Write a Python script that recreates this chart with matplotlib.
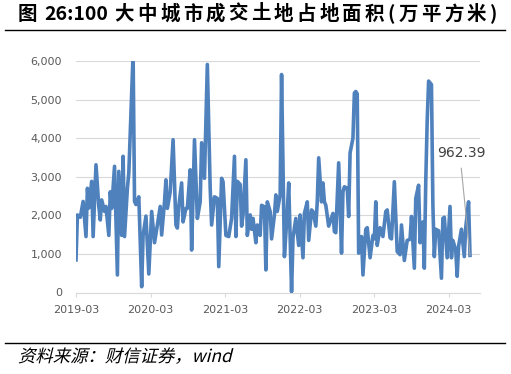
import re
import matplotlib
matplotlib.use("Agg")
import matplotlib.pyplot as plt
from matplotlib.ticker import FuncFormatter
from matplotlib.lines import Line2D
from matplotlib.textpath import TextPath
from matplotlib.patches import PathPatch
from matplotlib.font_manager import FontProperties
from matplotlib.transforms import Affine2D
import pandas as pd

plt.rcParams["font.family"] = ["Noto Sans CJK SC", "DejaVu Sans"]

TITLE = "图 26:100 大中城市成交土地占地面积(万平方米)"
SOURCE = "资料来源：财信证券，wind"

# weekly series (week number counted from 2019-03-01)
week_no = [0, 1, 3, 5, 7, 8, 9, 11, 12, 14, 16, 17, 18, 20, 21, 23, 24, 25, 27, 29,
           30, 32, 33, 34, 36, 37, 39, 40, 41, 42, 44, 46, 47, 49, 51, 53, 55, 57, 59, 60,
           62, 63, 64, 66, 68, 70, 71, 72, 74, 75, 77, 78, 80, 81, 83, 85, 87, 88, 90, 92,
           94, 95, 97, 99, 100, 102, 103, 105, 107, 109, 111, 112, 113, 115, 116, 117, 119, 120, 122, 123,
           124, 126, 127, 129, 130, 132, 133, 134, 136, 137, 139, 140, 141, 143, 144, 146, 148, 149, 151, 152,
           154, 156, 157, 159, 160, 162, 163, 165, 166, 168, 169, 170, 172, 173, 174, 175, 177, 178, 180, 181,
           182, 184, 186, 187, 188, 190, 191, 192, 194, 195, 196, 197, 198, 200, 201, 203, 204, 206, 208, 209,
           210, 211, 213, 215, 217, 218, 220, 221, 223, 225, 227, 228, 230, 232, 234, 235, 237, 238, 240, 241,
           243, 244, 245, 246, 247, 249, 250, 251, 252, 254, 256, 257, 258, 260, 262, 263, 264, 266, 267, 268,
           270, 272, 273, 275, 276]
area = [844, 2010, 1950, 2360, 1450, 2700, 2190, 2880, 1450, 3310, 2220, 1880, 2400, 2100, 2230, 1480, 2610, 2180, 3270, 455,
        3140, 1480, 3530, 1450, 2700, 3100, 5200, 6200, 2360, 2280, 2480, 150, 1480, 1980, 480, 2100, 1290, 1750, 2230, 1490,
        2350, 2920, 2180, 2610, 3960, 1750, 1670, 2230, 2840, 1830, 2180, 2180, 3180, 1100, 3960, 1920, 2350, 3880, 2960, 5910,
        2700, 1750, 2480, 2440, 670, 2960, 2870, 1480, 1450, 1920, 3530, 1450, 2880, 2800, 1720, 2010, 3440, 1480, 2010, 1640,
        1920, 1290, 1750, 1480, 2260, 2220, 585, 2350, 2100, 1390, 2010, 2530, 2100, 2530, 5650, 930, 2100, 2840, 20, 1420,
        1920, 1220, 2010, 900, 2050, 2350, 1350, 2140, 2100, 1720, 2350, 3490, 2350, 2840, 2350, 2260, 1720, 1830, 2050, 1580,
        1550, 3360, 1020, 2610, 2740, 2700, 1970, 3620, 4000, 5170, 5210, 5150, 1020, 1450, 455, 1640, 1680, 900, 1480, 1390,
        2350, 1220, 1680, 1450, 2100, 2140, 1420, 1390, 2870, 1060, 980, 1750, 830, 1350, 1380, 1970, 630, 2440, 2780, 1290,
        1830, 630, 2870, 4440, 5480, 5390, 2260, 930, 1640, 1600, 370, 1920, 1950, 900, 2230, 900, 1350, 1100, 420, 1200,
        1640, 930, 1680, 2350, 962.39]

tick_dates = ["2019-03-01", "2020-03-01", "2021-03-01", "2022-03-01", "2023-03-01", "2024-03-01"]
tick_labels = ["2019-03", "2020-03", "2021-03", "2022-03", "2023-03", "2024-03"]
y_ticks = [0, 1000, 2000, 3000, 4000, 5000, 6000]

start = pd.Timestamp("2019-03-01")
dates = start + pd.to_timedelta([w * 7 for w in week_no], unit="D")

fig = plt.figure(figsize=(5.11, 3.74), dpi=100)
ax = fig.add_axes([76 / 511, 1 - 292.5 / 374, 404 / 511, 231.5 / 374])

ax.plot(dates, area, color="#4f81bd", lw=2.6, solid_joinstyle="round", zorder=3)

ax.set_ylim(0, 6000)
ax.set_xlim(start, start + pd.Timedelta(days=283 * 7))
ax.set_yticks(y_ticks)
ax.yaxis.set_major_formatter(FuncFormatter(lambda v, _: f"{v:,.0f}"))
ax.set_xticks(pd.to_datetime(tick_dates))
ax.set_xticklabels(tick_labels)

ax.grid(axis="y", color="#d9d9d9", lw=0.8)
ax.set_axisbelow(True)
for side in ("top", "right", "left"):
    ax.spines[side].set_visible(False)
ax.spines["bottom"].set_color("#d9d9d9")
ax.spines["bottom"].set_linewidth(0.8)
ax.tick_params(axis="y", length=0, pad=10, labelsize=8, labelcolor="#595959")
ax.tick_params(axis="x", length=3, color="#d9d9d9", pad=6, labelsize=8, labelcolor="#595959")
for lab in ax.get_xticklabels() + ax.get_yticklabels():
    lab.set_family("DejaVu Sans")

# last value label with leader line
last_date = dates[-1]
ax.annotate(f"{area[-1]:.2f}", xy=(last_date, area[-1]),
            xytext=(start + pd.Timedelta(days=253 * 7), 3620),
            ha="left", va="center", fontsize=10, color="#404040", family="DejaVu Sans",
            arrowprops=dict(arrowstyle="-", color="#a6a6a6", lw=0.8,
                            relpos=(0.48, 0), shrinkA=4, shrinkB=0),
            annotation_clip=False, zorder=4)

# title: CJK chars tracked out to the full width, the number kept tight
renderer = fig.canvas.get_renderer()
pieces = []
for chunk in re.findall(r"[0-9:]+|\s|.", TITLE):
    if chunk == " ":
        pieces.append((None, 0))
        continue
    t = fig.text(0, 1 - 14 / 374, chunk, ha="left", va="center",
                 fontsize=14, fontweight="bold", color="black")
    pieces.append((t, t.get_window_extent(renderer).width))
span = 497 - 18
gap = (span - sum(w for _, w in pieces)) / (len(pieces) - 1)
x = 18
for t, w in pieces:
    if t is not None:
        t.set_x(x / 511)
    x += w + gap

fig.add_artist(Line2D([5 / 511, 505 / 511], [1 - 29.5 / 374] * 2, color="black", lw=1.0))
fig.add_artist(Line2D([5 / 511, 505 / 511], [1 - 342.5 / 374] * 2, color="black", lw=1.0))

# source line, sheared to fake an italic face
tp = TextPath((0, 0), SOURCE, size=12.5, prop=FontProperties(family="Noto Sans CJK SC", weight="light"))
shear = Affine2D().skew_deg(14, 0).scale(1 / 72).translate(18 / 100, (374 - 362) / 100)
fig.add_artist(PathPatch(tp, transform=shear + fig.dpi_scale_trans,
                         facecolor="black", edgecolor="none", lw=0))

fig.savefig("out.png", dpi=100)
